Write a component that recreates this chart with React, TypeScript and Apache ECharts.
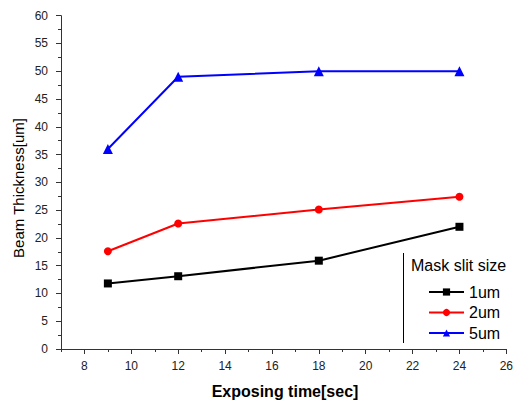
import React, { useEffect, useRef } from "react";
import * as echarts from "echarts";

const xValues = [9, 12, 18, 24];
const series1um = [11.8, 13.1, 15.9, 22.0];
const series2um = [17.6, 22.6, 25.1, 27.4];
const series5um = [36.0, 49.0, 50.0, 50.0];
const xMajorTicks = [8, 10, 12, 14, 16, 18, 20, 22, 24, 26];
const xMinorTicks = [7, 9, 11, 13, 15, 17, 19, 21, 23, 25];
const seriesNames = ["1um", "2um", "5um"];

const FONT = "Arial, 'Liberation Sans', sans-serif";

export default function App() {
  const ref = useRef<HTMLDivElement>(null);
  useEffect(() => {
    if (!ref.current) return;
    const chart = echarts.init(ref.current, null, { renderer: "svg" });
    const pair = (ys: number[]) => xValues.map((x, i) => [x, ys[i]]);
    const axisColor = "#333";
    chart.setOption({
      animation: false,
      backgroundColor: "#fff",
      grid: { left: 61, right: 7, top: 15.7, bottom: 56, containLabel: false },
      xAxis: [
        {
          type: "value",
          min: 7,
          max: 26,
          position: "bottom",
          axisLine: { show: true, lineStyle: { color: axisColor, width: 1 } },
          axisTick: { show: true, length: 5, customValues: xMajorTicks, lineStyle: { color: axisColor } },
          axisLabel: { show: true, customValues: xMajorTicks, margin: 11, fontSize: 12, color: "#222", fontFamily: FONT },
          splitLine: { show: false },
        },
        {
          type: "value",
          min: 7,
          max: 26,
          position: "bottom",
          axisLine: { show: false },
          axisTick: { show: true, length: 3, customValues: xMinorTicks, lineStyle: { color: axisColor } },
          axisLabel: { show: false },
          splitLine: { show: false },
        },
      ],
      yAxis: {
        type: "value",
        min: 0,
        max: 60,
        interval: 5,
        axisLine: { show: true, lineStyle: { color: axisColor, width: 1 } },
        axisTick: { show: true, length: 5, lineStyle: { color: axisColor } },
        minorTick: { show: true, splitNumber: 2, length: 3, lineStyle: { color: axisColor } },
        axisLabel: { margin: 13, fontSize: 12, color: "#222", fontFamily: FONT },
        splitLine: { show: false },
      },
      legend: {
        orient: "vertical",
        left: 428,
        top: 284,
        itemWidth: 35,
        itemHeight: 9,
        itemGap: 4.5,
        padding: 0,
        textStyle: { fontSize: 16, color: "#000", fontFamily: FONT, lineHeight: 16 },
        data: seriesNames,
      },
      graphic: [
        {
          type: "line",
          shape: { x1: 403.5, y1: 253, x2: 403.5, y2: 343 },
          style: { stroke: "#000", lineWidth: 1 },
        },
        {
          type: "text",
          x: 411,
          y: 265,
          style: { text: "Mask slit size", fontSize: 16, fontFamily: FONT, fill: "#000", textAlign: "left", textVerticalAlign: "middle" },
        },
        {
          type: "text",
          x: 18,
          y: 188,
          rotation: Math.PI / 2,
          style: { text: "Beam Thickness[um]", fontSize: 15, fontFamily: FONT, fill: "#000", textAlign: "center", textVerticalAlign: "middle" },
        },
        {
          type: "text",
          x: 285,
          y: 391,
          style: { text: "Exposing time[sec]", fontSize: 16, fontWeight: "bold", fontFamily: FONT, fill: "#000", textAlign: "center", textVerticalAlign: "middle" },
        },
      ],
      series: [
        {
          name: seriesNames[0],
          type: "line",
          data: pair(series1um),
          symbol: "rect",
          symbolSize: 8,
          lineStyle: { color: "#000", width: 2 },
          itemStyle: { color: "#000" },
        },
        {
          name: seriesNames[1],
          type: "line",
          data: pair(series2um),
          symbol: "circle",
          symbolSize: 8,
          lineStyle: { color: "#ff0000", width: 2 },
          itemStyle: { color: "#ff0000" },
        },
        {
          name: seriesNames[2],
          type: "line",
          data: pair(series5um),
          symbol: "triangle",
          symbolSize: 10,
          lineStyle: { color: "#0000ff", width: 2 },
          itemStyle: { color: "#0000ff" },
        },
      ],
    });
    return () => chart.dispose();
  }, []);
  return <div ref={ref} style={{ width: 516, height: 405, position: "absolute", left: 0, top: 0 }} />;
}
